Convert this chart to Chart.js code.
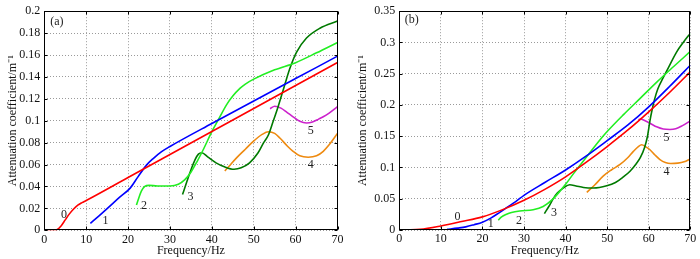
<!DOCTYPE html>
<html><head><meta charset="utf-8">
<script src="https://cdn.jsdelivr.net/npm/chart.js@4/dist/chart.umd.min.js"></script>
<style>
html,body{margin:0;padding:0;background:#fff;}
#wrap{position:relative;width:700px;height:259px;overflow:hidden;}
canvas{position:absolute;top:0;}
</style>
</head><body>
<div id="wrap">
<canvas id="ca" width="350" height="259" style="left:0;width:350px;height:259px"></canvas>
<canvas id="cb" width="350" height="259" style="left:350px;width:350px;height:259px"></canvas>
</div>
<script>
// ---------- Panel (a) data ----------
const aFreq0 = [0.8, 2.5, 3, 4, 5, 6, 7, 8, 9, 10, 20, 30, 40, 50, 60, 70];
const aAtt0  = [0, 0, 0.0005, 0.004, 0.0095, 0.015, 0.0195, 0.023, 0.0253, 0.0272, 0.0482, 0.0692, 0.0902, 0.1112, 0.1322, 0.1532];
const aFreq1 = [11, 13, 15, 18, 20.5, 22.4, 24.4, 26, 28, 30, 40, 50, 60, 70];
const aAtt1  = [0.0063, 0.013, 0.0198, 0.0302, 0.0385, 0.049, 0.0595, 0.0655, 0.0718, 0.0765, 0.0975, 0.118, 0.1385, 0.159];
const aFreq2 = [22, 22.6, 23.2, 24, 25, 27, 30, 32, 33.5, 35, 36.5, 38, 40, 41.5, 43.5, 45, 46.7, 48, 50, 55, 60, 65, 70];
const aAtt2  = [0.023, 0.030, 0.036, 0.040, 0.041, 0.0405, 0.0405, 0.042, 0.046, 0.053, 0.063, 0.074, 0.090, 0.1005, 0.1145, 0.1225, 0.1295, 0.1335, 0.138, 0.1465, 0.153, 0.162, 0.1715];
const aFreq3 = [33, 34, 35, 36, 36.8, 37.6, 39, 41, 43, 45.3, 47, 49, 51, 52.3, 53.5, 54.6, 55.8, 57, 58.6, 60.2, 62.6, 65.8, 70];
const aAtt3  = [0.0326, 0.044, 0.055, 0.0645, 0.0695, 0.0708, 0.067, 0.0616, 0.058, 0.0557, 0.057, 0.0616, 0.0705, 0.0796, 0.087, 0.099, 0.1126, 0.1276, 0.1475, 0.1625, 0.1755, 0.1845, 0.191];
const aFreq4 = [43.1, 44, 45.9, 48, 49.9, 52, 53.5, 55, 56.3, 58, 59.4, 61, 63, 65, 66.6, 68, 70];
const aAtt4  = [0.0542, 0.058, 0.0661, 0.074, 0.0811, 0.0875, 0.090, 0.0885, 0.084, 0.077, 0.0721, 0.068, 0.0667, 0.068, 0.0721, 0.078, 0.0885];
const aFreq5 = [53.9, 55, 56.5, 58, 59.4, 61, 62.6, 64, 65.5, 66.6, 68, 70];
const aAtt5  = [0.111, 0.1132, 0.1115, 0.1075, 0.1036, 0.0995, 0.098, 0.0988, 0.1015, 0.1036, 0.107, 0.1128];

// ---------- Panel (b) data ----------
const bFreq0 = [1.5, 5, 10, 15, 20, 25, 30, 35, 40, 45, 50, 55, 60, 65, 70];
const bAtt0  = [0, 0.001, 0.0065, 0.0135, 0.021, 0.033, 0.0475, 0.065, 0.085, 0.1085, 0.1335, 0.16, 0.189, 0.220, 0.253];
const bFreq1 = [11.5, 14, 16, 18, 20, 22, 24, 26, 28, 30, 35, 40, 45, 50, 55, 60, 65, 70];
const bAtt1  = [0.001, 0.003, 0.005, 0.0085, 0.0125, 0.019, 0.0275, 0.0365, 0.0455, 0.0555, 0.076, 0.096, 0.1185, 0.143, 0.168, 0.197, 0.2295, 0.2636];
const bFreq2 = [23.8, 24.6, 25.8, 27, 29, 32.2, 34.6, 37, 38.5, 40, 42, 44, 46, 48, 50, 54, 58, 62, 66, 70];
const bAtt2  = [0.0157, 0.021, 0.0252, 0.028, 0.0304, 0.0325, 0.0377, 0.0498, 0.061, 0.073, 0.091, 0.108, 0.125, 0.142, 0.1575, 0.185, 0.211, 0.237, 0.2615, 0.2856];
const bFreq3 = [34.9, 36, 37, 38, 39.5, 41, 42.5, 44.3, 46.7, 49.9, 52, 53.9, 55.5, 57, 58, 59, 59.7, 60.3, 60.8, 61.4, 62.2, 63.2, 64.3, 66.7, 68.3, 70];
const bAtt3  = [0.0262, 0.038, 0.0498, 0.059, 0.0675, 0.0723, 0.0705, 0.068, 0.0671, 0.0707, 0.076, 0.085, 0.094, 0.106, 0.116, 0.132, 0.150, 0.175, 0.192, 0.209, 0.226, 0.240, 0.254, 0.2846, 0.300, 0.3145];
const bFreq4 = [45.1, 47, 49.1, 51, 53.1, 55, 56.3, 57.5, 58.3, 59.3, 60.3, 61.5, 62.7, 64, 65.3, 67, 68.5, 70];
const bAtt4  = [0.0602, 0.072, 0.0865, 0.096, 0.1048, 0.116, 0.1258, 0.1335, 0.1363, 0.133, 0.1284, 0.120, 0.1127, 0.108, 0.1064, 0.107, 0.109, 0.1137];
const bFreq5 = [57.5, 58, 59, 60.5, 61.9, 63.5, 65.1, 66.5, 68, 70];
const bAtt5  = [0.1765, 0.1775, 0.175, 0.170, 0.165, 0.1615, 0.1608, 0.162, 0.1665, 0.1745];

// ---------- Axis ticks ----------
const xTicks = [0, 10, 20, 30, 40, 50, 60, 70];
const aYTicks = [0, 0.02, 0.04, 0.06, 0.08, 0.1, 0.12, 0.14, 0.16, 0.18, 0.2];
const bYTicks = [0, 0.05, 0.1, 0.15, 0.2, 0.25, 0.3, 0.35];

// ---------- Text tags (in data units) ----------
const aTagText = ['(a)', '0', '1', '2', '3', '4', '5'];
const aTagFreq = [3.0, 4.7, 14.6, 23.8, 34.9, 63.6, 63.6];
const aTagAtt  = [0.1905, 0.0137, 0.0084, 0.0227, 0.0302, 0.0593, 0.0907];
const bTagText = ['(b)', '0', '1', '2', '3', '4', '5'];
const bTagFreq = [3.0, 14.0, 22.0, 28.8, 37.2, 64.3, 64.3];
const bTagAtt  = [0.3367, 0.0209, 0.0105, 0.0146, 0.0272, 0.0927, 0.1467];

const COLORS = ['#ff0000', '#0000ff', '#22ee22', '#007a00', '#ee8a10', '#cc22cc'];
const FONT = '"Liberation Serif", "Times New Roman", serif';

function series(fr, at) { return fr.map((f, i) => ({x: f, y: at[i]})); }

const framePlugin = {
  id: 'frame',
  afterDraw(chart, args, opts) {
    const {ctx, chartArea: a, scales} = chart;
    const x = scales.x, y = scales.y;
    const L = Math.round(a.left) + 0.5, R = Math.round(a.right) - 0.5;
    const T = Math.round(a.top) + 0.5, B = Math.round(a.bottom) - 0.5;
    ctx.save();
    ctx.strokeStyle = '#000';
    ctx.lineWidth = 1;
    ctx.setLineDash([]);
    ctx.strokeRect(L, T, R - L, B - T);
    ctx.beginPath();
    x.ticks.forEach(t => {
      const px = Math.round(x.getPixelForValue(t.value)) + 0.5;
      ctx.moveTo(px, B); ctx.lineTo(px, B - 3);
      ctx.moveTo(px, T); ctx.lineTo(px, T + 3);
    });
    y.ticks.forEach(t => {
      const py = Math.round(y.getPixelForValue(t.value)) + 0.5;
      ctx.moveTo(L, py); ctx.lineTo(L + 3, py);
      ctx.moveTo(R, py); ctx.lineTo(R - 3, py);
    });
    ctx.stroke();
    ctx.fillStyle = '#222';
    ctx.font = '12px ' + FONT;
    ctx.textAlign = 'center';
    ctx.textBaseline = 'middle';
    opts.text.forEach((s, i) => {
      ctx.fillText(s, x.getPixelForValue(opts.freq[i]), y.getPixelForValue(opts.att[i]));
    });
    ctx.restore();
  }
};

function makeChart(id, sets, yTicks, yMax, lay, tags) {
  const datasets = sets.map((s, i) => ({
    data: series(s[0], s[1]),
    borderColor: COLORS[i],
    backgroundColor: COLORS[i],
    borderWidth: 1.6,
    pointRadius: 0,
    fill: false,
    cubicInterpolationMode: 'monotone'
  }));
  return new Chart(document.getElementById(id), {
    type: 'line',
    data: {datasets},
    plugins: [framePlugin],
    options: {
      responsive: false,
      animation: false,
      devicePixelRatio: 1,
      layout: {padding: {left: 0, right: lay.right, top: lay.top, bottom: 0}},
      plugins: {
        legend: {display: false},
        tooltip: {enabled: false},
        frame: {text: tags[0], freq: tags[1], att: tags[2]}
      },
      scales: {
        x: {
          type: 'linear', min: 0, max: 70,
          afterBuildTicks: s => { s.ticks = xTicks.map(v => ({value: v})); },
          afterFit: s => { s.height = lay.xh; },
          ticks: {color: '#111', font: {family: FONT, size: 12}, padding: 2, maxRotation: 0},
          grid: {color: '#9a9a9a', lineWidth: 1, drawTicks: false},
          border: {display: false, dash: [1, 2]},
          title: {display: true, text: 'Frequency/Hz', color: '#111', font: {family: FONT, size: 12}, padding: {top: 0, bottom: 1}}
        },
        y: {
          type: 'linear', min: 0, max: yMax,
          afterBuildTicks: s => { s.ticks = yTicks.map(v => ({value: v})); },
          afterFit: s => { s.width = lay.yw; },
          ticks: {color: '#111', font: {family: FONT, size: 12}, padding: 4,
                  callback: v => String(parseFloat(Number(v).toFixed(3)))},
          grid: {color: '#9a9a9a', lineWidth: 1, drawTicks: false},
          border: {display: false, dash: [1, 2]},
          title: {display: true, text: 'Attenuation coefficient/m\u207B\u00B9', color: '#111', font: {family: FONT, size: 12}, padding: {top: 6, bottom: 0}}
        }
      }
    }
  });
}

makeChart('ca',
  [[aFreq0, aAtt0], [aFreq1, aAtt1], [aFreq2, aAtt2], [aFreq3, aAtt3], [aFreq4, aAtt4], [aFreq5, aAtt5]],
  aYTicks, 0.2, {right: 12.5, top: 8.7, xh: 28.7, yw: 44.3},
  [aTagText, aTagFreq, aTagAtt]);

makeChart('cb',
  [[bFreq0, bAtt0], [bFreq1, bAtt1], [bFreq2, bAtt2], [bFreq3, bAtt3], [bFreq4, bAtt4], [bFreq5, bAtt5]],
  bYTicks, 0.35, {right: 9.7, top: 7.7, xh: 29, yw: 49.3},
  [bTagText, bTagFreq, bTagAtt]);
</script>
</body></html>
